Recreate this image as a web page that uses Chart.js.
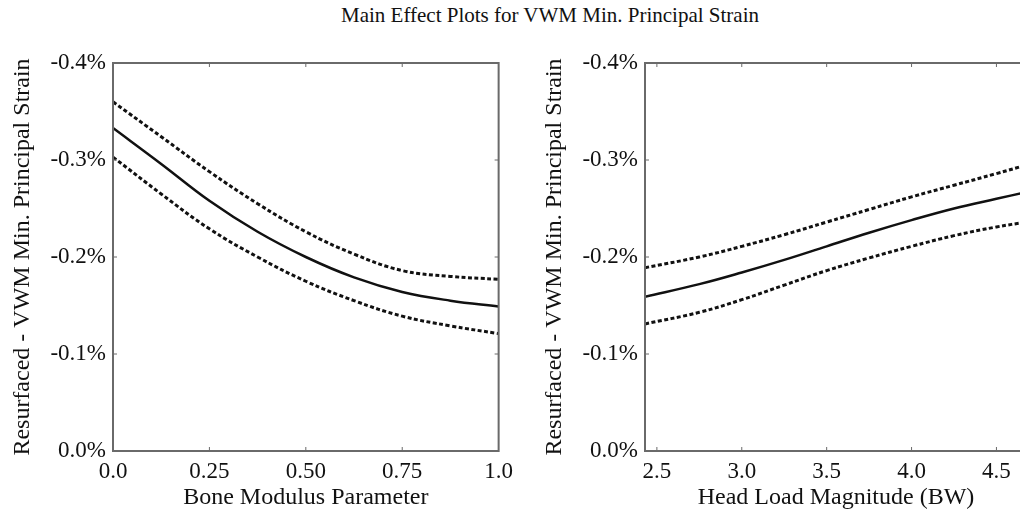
<!DOCTYPE html>
<html>
<head>
<meta charset="utf-8">
<script src="https://cdn.jsdelivr.net/npm/chart.js@4.4.1/dist/chart.umd.min.js"></script>
<style>
  html,body{margin:0;padding:0;background:#fff;width:1020px;height:512px;overflow:hidden;}
  #title{position:absolute;left:0;width:1100px;top:3px;text-align:center;
    font-family:"Liberation Serif","Times New Roman",serif;font-size:21px;color:#111;}
  .panel{position:absolute;top:0;height:512px;}
  #p1{left:0;width:520px;}
  #p2{left:532px;width:498px;}
</style>
</head>
<body>
<div id="title">Main Effect Plots for VWM Min. Principal Strain</div>
<div class="panel" id="p1"><canvas id="c1"></canvas></div>
<div class="panel" id="p2"><canvas id="c2"></canvas></div>
<script>
/* ── data ── */
var yTickVals   = [0, -0.1, -0.2, -0.3, -0.4];
var yTickLabels = ['0.0%', '-0.1%', '-0.2%', '-0.3%', '-0.4%'];
var yTitle = 'Resurfaced - VWM Min. Principal Strain';

var boneX     = [0, 0.125, 0.25, 0.375, 0.5, 0.625, 0.75, 0.875, 1.0];
var boneFit   = [-0.333, -0.296, -0.258, -0.226, -0.200, -0.179, -0.164, -0.155, -0.149];
var boneUpper = [-0.360, -0.324, -0.288, -0.255, -0.226, -0.203, -0.186, -0.180, -0.177];
var boneLower = [-0.303, -0.265, -0.229, -0.200, -0.175, -0.155, -0.139, -0.129, -0.121];
var boneTickVals   = [0, 0.25, 0.5, 0.75, 1.0];
var boneTickLabels = ['0.0', '0.25', '0.50', '0.75', '1.0'];

var loadX     = [2.43, 2.75, 3.0, 3.25, 3.5, 3.75, 4.0, 4.25, 4.5, 4.68];
var loadFit   = [-0.159, -0.172, -0.184, -0.197, -0.211, -0.225, -0.238, -0.250, -0.260, -0.267];
var loadUpper = [-0.189, -0.200, -0.211, -0.223, -0.236, -0.249, -0.262, -0.274, -0.286, -0.295];
var loadLower = [-0.131, -0.143, -0.156, -0.171, -0.186, -0.199, -0.211, -0.222, -0.231, -0.236];
var loadTickVals   = [2.5, 3.0, 3.5, 4.0, 4.5];
var loadTickLabels = ['2.5', '3.0', '3.5', '4.0', '4.5'];

var SERIF = '"Liberation Serif","Times New Roman",serif';
var INK = '#111';
var FRAME = '#6a6a6a';

function pts(xs, ys){
  return xs.map(function(x, i){ return {x: x, y: ys[i]}; });
}

// box round the plot area with small inward ticks on all four sides
var boxPlugin = {
  id: 'box',
  afterDatasetsDraw: function(chart){
    var a = chart.chartArea, ctx = chart.ctx;
    var sx = chart.scales.x, sy = chart.scales.y;
    ctx.save();
    ctx.strokeStyle = FRAME;
    ctx.lineWidth = 2;
    ctx.strokeRect(a.left, a.top, a.right - a.left, a.bottom - a.top);
    ctx.lineWidth = 1;
    ctx.beginPath();
    sx.ticks.forEach(function(t){
      var px = sx.getPixelForValue(t.value);
      if(px <= a.left + 2 || px >= a.right - 2) return;
      ctx.moveTo(px, a.bottom); ctx.lineTo(px, a.bottom - 4);
      ctx.moveTo(px, a.top);    ctx.lineTo(px, a.top + 4);
    });
    sy.ticks.forEach(function(t){
      var py = sy.getPixelForValue(t.value);
      if(py <= a.top + 2 || py >= a.bottom - 2) return;
      ctx.moveTo(a.left, py);  ctx.lineTo(a.left + 4, py);
      ctx.moveTo(a.right, py); ctx.lineTo(a.right - 4, py);
    });
    ctx.stroke();
    ctx.restore();
  }
};

function buildPanel(id, xs, fit, upper, lower, xMin, xMax, xTicks, xLabels, xTitle){
  var ctx = document.getElementById(id);
  var dashed = {borderColor: INK, borderWidth: 3, borderDash: [4, 2.5], pointRadius: 0,
                tension: 0.4, fill: false};
  return new Chart(ctx, {
    type: 'line',
    data: {
      datasets: [
        Object.assign({label: 'upper', data: pts(xs, upper)}, dashed),
        {label: 'fit', data: pts(xs, fit), borderColor: INK, borderWidth: 2.5,
         pointRadius: 0, tension: 0.4, fill: false},
        Object.assign({label: 'lower', data: pts(xs, lower)}, dashed)
      ]
    },
    options: {
      responsive: true,
      maintainAspectRatio: false,
      animation: false,
      layout: {padding: {top: 63, right: 3, left: 0, bottom: 0}},
      plugins: {legend: {display: false}, tooltip: {enabled: false}},
      scales: {
        x: {
          type: 'linear', min: xMin, max: xMax,
          afterBuildTicks: function(s){ s.ticks = xTicks.map(function(v){ return {value: v}; }); },
          afterFit: function(s){ s.height = 61; },
          grid: {display: false, drawTicks: false},
          border: {display: false},
          ticks: {
            padding: 7, color: INK, font: {family: SERIF, size: 23},
            maxRotation: 0, autoSkip: false,
            callback: function(v, i){ return xLabels[i]; }
          },
          title: {display: true, text: xTitle, color: INK, font: {family: SERIF, size: 24},
                  padding: {top: 0, bottom: 0}}
        },
        y: {
          type: 'linear', min: -0.4, max: 0, reverse: true,
          afterBuildTicks: function(s){ s.ticks = yTickVals.map(function(v){ return {value: v}; }); },
          afterFit: function(s){ s.width = 113; },
          grid: {display: false, drawTicks: false},
          border: {display: false},
          ticks: {
            padding: 7, color: INK, font: {family: SERIF, size: 23}, autoSkip: false,
            callback: function(v, i){ return yTickLabels[i]; }
          },
          title: {display: true, text: yTitle, color: INK, font: {family: SERIF, size: 24},
                  padding: {top: 8, bottom: 0}}
        }
      }
    },
    plugins: [boxPlugin]
  });
}

buildPanel('c1', boneX, boneFit, boneUpper, boneLower, 0, 1.0,
           boneTickVals, boneTickLabels, 'Bone Modulus Parameter');
buildPanel('c2', loadX, loadFit, loadUpper, loadLower, 2.43, 4.68,
           loadTickVals, loadTickLabels, 'Head Load Magnitude (BW)');
</script>
</body>
</html>
